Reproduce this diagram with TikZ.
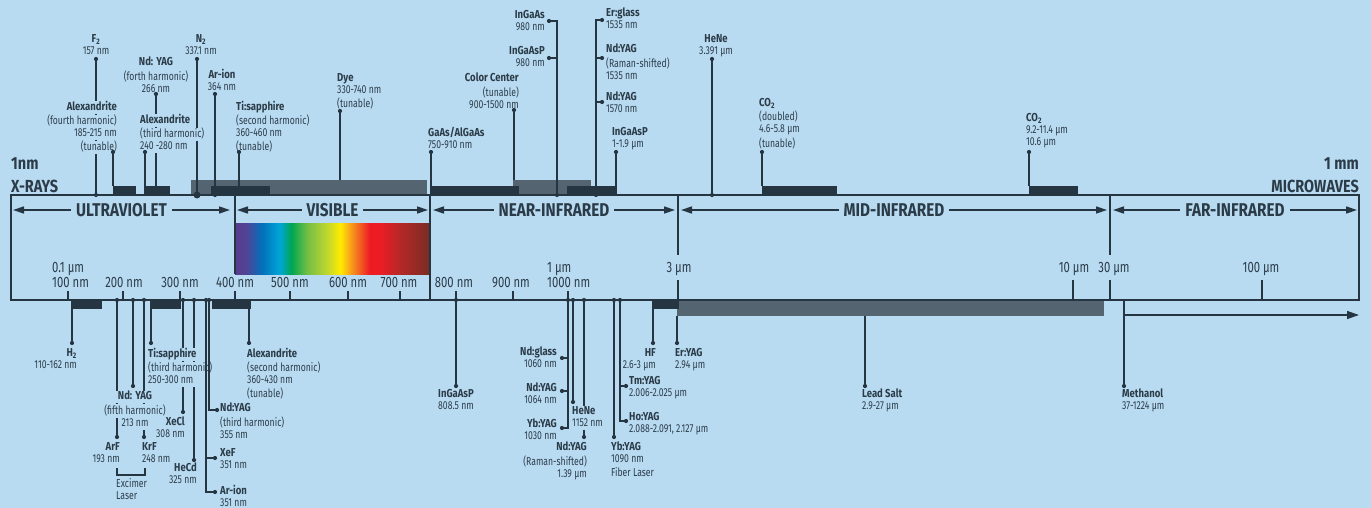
\documentclass[tikz,border=0pt]{standalone}
\usepackage{fontspec}
\setmainfont{Fira Sans}[FakeStretch=0.752]
\newfontfamily\labbf{Fira Sans}[FakeStretch=0.828]
\usetikzlibrary{arrows.meta}
\definecolor{bg}{RGB}{185,219,242}
\definecolor{dk}{RGB}{37,54,66}
\definecolor{gy}{RGB}{84,100,112}
\definecolor{tx}{RGB}{43,60,72}
\definecolor{spa}{RGB}{88,58,140}
\definecolor{spb}{RGB}{80,68,150}
\definecolor{spc}{RGB}{0,114,188}
\definecolor{spd}{RGB}{0,166,214}
\definecolor{spe}{RGB}{0,166,81}
\definecolor{spf}{RGB}{115,190,70}
\definecolor{spg}{RGB}{190,214,48}
\definecolor{sph}{RGB}{255,235,0}
\definecolor{spi}{RGB}{247,148,29}
\definecolor{spj}{RGB}{237,28,36}
\definecolor{spk}{RGB}{180,40,40}
\definecolor{spl}{RGB}{120,45,35}
\pgfdeclarehorizontalshading{spec}{100bp}{color(0bp)=(spa); color(25bp)=(spa); color(28bp)=(spb); color(32bp)=(spc); color(36.5bp)=(spd); color(39.5bp)=(spe); color(43.5bp)=(spf); color(48.5bp)=(spg); color(52bp)=(sph); color(55bp)=(spi); color(59.5bp)=(spj); color(62bp)=(spj); color(67.5bp)=(spk); color(75bp)=(spl); color(100bp)=(spl)}
\setlength{\fboxsep}{0pt}
\newcommand\hl[1]{\kern-1.5pt\colorbox{bg}{\kern1.5pt\rule[-3.5pt]{0pt}{12pt}#1\kern1.5pt}\kern-1.5pt}
\newcommand\hb[1]{\hl{\labbf\bfseries #1}}
\tikzset{
  lab/.style={inner sep=0pt, text=tx, font=\fontsize{11.5}{12}\selectfont},
  labl/.style={lab, align=left},
  labr/.style={lab, align=right},
  labc/.style={lab, align=center},
  conn/.style={draw=dk, line width=1.3pt},
  dbar/.style={fill=dk},
  gbar/.style={fill=gy},
  axisline/.style={draw=dk, line width=1.8pt},
  tickline/.style={draw=dk, line width=1.5pt},
  ticklab/.style={inner sep=0pt, text=tx, font=\fontsize{15}{17}\selectfont},
  secarr/.style={draw=dk, line width=1.5pt, {Triangle[length=11pt,width=7pt]}-{Triangle[length=11pt,width=7pt]}},
  seclab/.style={fill=bg, text=tx, inner xsep=5pt, inner ysep=1pt, font=\fontsize{18.5}{21}\selectfont\labbf\bfseries},
  endlab/.style={inner sep=0pt, text=tx, font=\fontsize{17.5}{20}\selectfont\labbf\bfseries}
}
\newcommand\dt[1]{\fill[dk] #1 circle[radius=2.1pt];}
\begin{document}
\begin{tikzpicture}[x=1pt,y=-1pt]
\path[use as bounding box, fill=bg] (0,0) rectangle (1371,508);

% bars
\fill[gbar] (191,180) rectangle (427,195);
\fill[gbar] (513,180) rectangle (591,195);
\foreach \a/\b in {113/136,144/170,211/270,430/519,567/617,762/837,1029/1078}
  {\fill[dbar] (\a,186) rectangle (\b,195);}
\fill[gbar] (677,300) rectangle (1104,316);
\foreach \a/\b in {71/102,150/181,212/251,652/679}
  {\fill[dbar] (\a,300) rectangle (\b,309);}

% spectrum
\shade[shading=spec] (235,223) rectangle (430,274);

% main box and dividers
\draw[axisline] (11,195) rectangle (1359,300);
\draw[axisline] (235,195) -- (235,274);
\draw[axisline] (430,195) -- (430,300);
\draw[axisline] (678,195) -- (678,255);
\draw[axisline] (678,280) -- (678,300);
\draw[axisline] (1110,195) -- (1110,255);
\draw[axisline] (1110,280) -- (1110,300);

% ticks
\foreach \x in {68,123,180,235,290,348,400,456,513,568}
  {\draw[tickline] (\x,300) -- (\x,291);}
\foreach \x in {1073,1262}
  {\draw[tickline] (\x,300) -- (\x,280);}

% tick labels
\node[ticklab, anchor=base west] (t01) at (52,272.5) {0.1 µm};
\node[ticklab, anchor=base west] (t100) at (52,287.5) {100 nm};
\node[ticklab, anchor=base] (t200) at (124,287.5) {200 nm};
\node[ticklab, anchor=base] (t300) at (180,287.5) {300 nm};
\node[ticklab, anchor=base] (t400) at (235,287.5) {400 nm};
\node[ticklab, anchor=base] (t500) at (290,287.5) {500 nm};
\node[ticklab, anchor=base] (t600) at (348,287.5) {600 nm};
\node[ticklab, anchor=base] (t700) at (399,287.5) {700 nm};
\node[ticklab, anchor=base] (t800) at (454,287.5) {800 nm};
\node[ticklab, anchor=base] (t900) at (511,287.5) {900 nm};
\node[ticklab, anchor=base west] (t1um) at (547,272.5) {1 µm};
\node[ticklab, anchor=base west] (t1000) at (547,287.5) {1000 nm};
\node[ticklab, anchor=base] (t3um) at (679,272.5) {3 µm};
\node[ticklab, anchor=base] (t10um) at (1074,272.5) {10 µm};
\node[ticklab, anchor=base] (t30um) at (1114,272.5) {30 µm};
\node[ticklab, anchor=base] (t100um) at (1261,272.5) {100 µm};

% section arrows
\draw[secarr] (13,210) -- (230,210);
\node[seclab] (uv) at (121.5,210) {ULTRAVIOLET};
\draw[secarr] (237,210) -- (428,210);
\node[seclab] (vis) at (332.5,210) {VISIBLE};
\draw[secarr] (433,210) -- (675,210);
\node[seclab] (nir) at (554,210) {NEAR-INFRARED};
\draw[secarr] (681,210) -- (1107,210);
\node[seclab] (mir) at (894,210) {MID-INFRARED};
\draw[secarr] (1113,210) -- (1357,210);
\node[seclab] (fir) at (1235,210) {FAR-INFRARED};

% end labels
\node[endlab, anchor=base west] (onenm) at (11,170) {1nm};
\node[endlab, anchor=base west] (xray) at (11,192) {X-RAYS};
\node[endlab, anchor=base east] (onemm) at (1359,170) {1 mm};
\node[endlab, anchor=base east] (micro) at (1359,192) {MICROWAVES};

% top connectors
\draw[conn] (96,59) -- (96,195);
\draw[conn] (113,152) -- (113,186);
\draw[conn] (156,94) -- (156,186);
\draw[conn] (145,152) -- (145,186);
\draw[conn] (197,59) -- (197,195);
\draw[conn] (215,94) -- (215,195);
\draw[conn] (239,152) -- (239,186);
\draw[conn] (340,111) -- (340,180);
\draw[conn] (431,152) -- (431,186);
\draw[conn] (514,110) -- (514,180);
\draw[conn] (549,21) -- (557,21) -- (557,195);
\draw[conn] (549,58) -- (557,58);
\draw[conn] (602,20) -- (596,20) -- (596,195);
\draw[conn] (596,58) -- (602,58);
\draw[conn] (596,102) -- (602,102);
\draw[conn] (616,152) -- (616,186);
\draw[conn] (712,59) -- (712,195);
\draw[conn] (762,152) -- (762,186);
\draw[conn] (1029,152) -- (1029,186);

% bottom connectors
\draw[conn] (72,309) -- (72,343);
\draw[conn] (117,300) -- (117,437);
\draw[conn] (133,300) -- (133,386);
\draw[conn] (144,300) -- (144,437);
\draw[conn] (151,309) -- (151,343);
\draw[conn] (183,300) -- (183,412);
\draw[conn] (194,300) -- (194,460);
\draw[conn] (249,309) -- (249,343);
\draw[conn] (456,300) -- (456,386);
\draw[conn] (568,300) -- (568,428) -- (562,428);
\draw[conn] (568,358) -- (562,358);
\draw[conn] (568,391) -- (562,391);
\draw[conn] (573,300) -- (573,402);
\draw[conn] (584,300) -- (584,437);
\draw[conn] (614,300) -- (614,437);
\draw[conn] (620,300) -- (620,421) -- (626,421);
\draw[conn] (620,386) -- (626,386);
\draw[conn] (653,309) -- (653,343);
\draw[conn] (677,316) -- (677,343);
\draw[conn] (865,316) -- (865,386);
\draw[conn] (1124,300) -- (1124,386);
\draw[conn] (117,468) -- (117,475) -- (145,475) -- (145,468);
\draw[conn, -{Triangle[length=12pt,width=8pt]}] (1124,315) -- (1359,315);

% top labels
\node[labc, anchor=north] (f2) at (96,34) {\hb{F\textsubscript{2}}\\\hl{157 nm}};
\node[labr, anchor=north east] (alex4) at (117,101) {\hb{Alexandrite}\\\hl{(fourth harmonic)}\\\hl{185-215 nm}\\\hl{(tunable)}};
\node[labc, anchor=north] (nd4) at (156,57) {\hb{Nd: YAG}\\\hl{(forth harmonic)}\\\hl{266 nm}};
\node[labl, anchor=north west] (alex3) at (140,114) {\hb{Alexandrite}\\\hl{(third harmonic)}\\\hl{240 -280 nm}};
\node[labc, anchor=north] (n2) at (201,34) {\hb{N\textsubscript{2}}\\\hl{337.1 nm}};
\node[labc, anchor=north] (arion) at (222,69) {\hb{Ar-ion}\\\hl{364 nm}};
\node[labl, anchor=north west] (ti2) at (236,101) {\hb{Ti:sapphire}\\\hl{(second harmonic)}\\\hl{360-460 nm}\\\hl{(tunable)}};
\node[labl, anchor=north west] (dye) at (337,73) {\hb{Dye}\\\hl{330-740 nm}\\\hl{(tunable)}};
\node[labl, anchor=north west] (gaas) at (428,127) {\hb{GaAs/AlGaAs}\\\hl{750-910 nm}};
\node[labr, anchor=north east] (cc) at (519,73) {\hb{Color Center}\\\hl{(tunable)}\\\hl{900-1500 nm}};
\node[labr, anchor=north east] (ingaas) at (545,10) {\hb{InGaAs}\\\hl{980 nm}};
\node[labr, anchor=north east] (ingaaspa) at (545,46) {\hb{InGaAsP}\\\hl{980 nm}};
\node[labl, anchor=north west] (erglass) at (606,8) {\hb{Er:glass}\\\hl{1535 nm}};
\node[labl, anchor=north west] (ndramana) at (606,44) {\hb{Nd:YAG}\\\hl{(Raman-shifted)}\\\hl{1535 nm}};
\node[labl, anchor=north west] (ndyag1570) at (606,92) {\hb{Nd:YAG}\\\hl{1570 nm}};
\node[labl, anchor=north west] (ingaaspb) at (612,127) {\hb{InGaAsP}\\\hl{1-1.9 µm}};
\node[labc, anchor=north] (henea) at (716,34) {\hb{HeNe}\\\hl{3.391 µm}};
\node[labl, anchor=north west] (coa) at (759,98) {\hb{CO\textsubscript{2}}\\\hl{(doubled)}\\\hl{4.6-5.8 µm}\\\hl{(tunable)}};
\node[labl, anchor=north west] (cob) at (1026,113) {\hb{CO\textsubscript{2}}\\\hl{9.2-11.4 µm}\\\hl{10.6 µm}};

% bottom labels
\node[labr, anchor=north east] (h2) at (77,348) {\hb{H\textsubscript{2}}\\\hl{110-162 nm}};
\node[labc, anchor=north] (nd5) at (135,391) {\hb{Nd: YAG}\\\hl{(fifth harmonic)}\\\hl{213 nm}};
\node[labr, anchor=north east] (arf) at (120,442) {\hb{ArF}\\\hl{193 nm}};
\node[labl, anchor=north west] (krf) at (142,442) {\hb{KrF}\\\hl{248 nm}};
\node[labl, anchor=north west] (exc) at (116,478) {Excimer\\Laser};
\node[labl, anchor=north west] (ti3) at (148,348) {\hb{Ti:sapphire}\\\hl{(third harmonic)}\\\hl{250-300 nm}};
\node[labr, anchor=north east] (xecl) at (185,417) {\hb{XeCl}\\\hl{308 nm}};
\node[labr, anchor=north east] (hecd) at (197,463) {\hb{HeCd}\\\hl{325 nm}};
\node[labl, anchor=north west] (nd3) at (220,403) {\hb{Nd:YAG}\\\hl{(third harmonic)}\\\hl{355 nm}};
\node[labl, anchor=north west] (xef) at (220,448) {\hb{XeF}\\\hl{351 nm}};
\node[labl, anchor=north west] (arionb) at (220,485) {\hb{Ar-ion}\\\hl{351 nm}};
\node[labl, anchor=north west] (alex2) at (247,348) {\hb{Alexandrite}\\\hl{(second harmonic)}\\\hl{360-430 nm}\\\hl{(tunable)}};
\node[labc, anchor=north] (ingaaspc) at (456,389) {\hb{InGaAsP}\\\hl{808.5 nm}};
\node[labr, anchor=north east] (ndglass) at (557,347) {\hb{Nd:glass}\\\hl{1060 nm}};
\node[labr, anchor=north east] (nd1064) at (557,383) {\hb{Nd:YAG}\\\hl{1064 nm}};
\node[labr, anchor=north east] (yb1030) at (557,419) {\hb{Yb:YAG}\\\hl{1030 nm}};
\node[labl, anchor=north west] (heneb) at (572,406) {\hb{HeNe}\\\hl{1152 nm}};
\node[labr, anchor=north east] (ndramanb) at (587,442) {\hb{Nd:YAG}\\\hl{(Raman-shifted)}\\\hl{1.39 µm}};
\node[labl, anchor=north west] (yb1090) at (611,442) {\hb{Yb:YAG}\\\hl{1090 nm}\\\hl{Fiber Laser}};
\node[labl, anchor=north west] (tm) at (629,376) {\hb{Tm:YAG}\\\hl{2.006-2.025 µm}};
\node[labl, anchor=north west] (ho) at (629,412) {\hb{Ho:YAG}\\\hl{2.088-2.091, 2.127 µm}};
\node[labr, anchor=north east] (hf) at (656,348) {\hb{HF}\\\hl{2.6-3 µm}};
\node[labl, anchor=north west] (eryag) at (675,348) {\hb{Er:YAG}\\\hl{2.94 µm}};
\node[labl, anchor=north west] (lead) at (862,389) {\hb{Lead Salt}\\\hl{2.9-27 µm}};
\node[labl, anchor=north west] (meth) at (1122,389) {\hb{Methanol}\\\hl{37-1224 µm}};

% lines drawn over labels
\draw[conn] (209,300) -- (209,410) -- (217,410);
\draw[conn] (206,300) -- (206,492) -- (215,492);
\draw[conn] (206,458) -- (215,458);

% dots
\foreach \p in {(96,59),(113,152),(156,94),(145,152),(197,59),(215,94),(239,152),(340,111),(431,152),(514,110),(549,21),(549,58),(602,20),(602,58),(602,102),(616,152),(712,59),(762,152),(1029,152),(96,195),(215,195),(557,195),(596,195),(712,195)}
  {\dt{\p}}
\fill[dk] (197,195) circle[radius=3.5pt];
\foreach \p in {(72,343),(117,437),(133,386),(144,437),(151,343),(183,412),(194,460),(249,343),(456,386),(562,358),(562,391),(562,428),(573,402),(584,437),(614,437),(626,386),(626,421),(653,343),(677,343),(865,386),(1124,386),(217,410),(215,458),(215,492),(117,300),(133,300),(144,300),(183,300),(194,300),(206,300),(209,300),(456,300),(568,300),(573,300),(584,300),(614,300),(620,300)}
  {\dt{\p}}
\end{tikzpicture}
\end{document}
